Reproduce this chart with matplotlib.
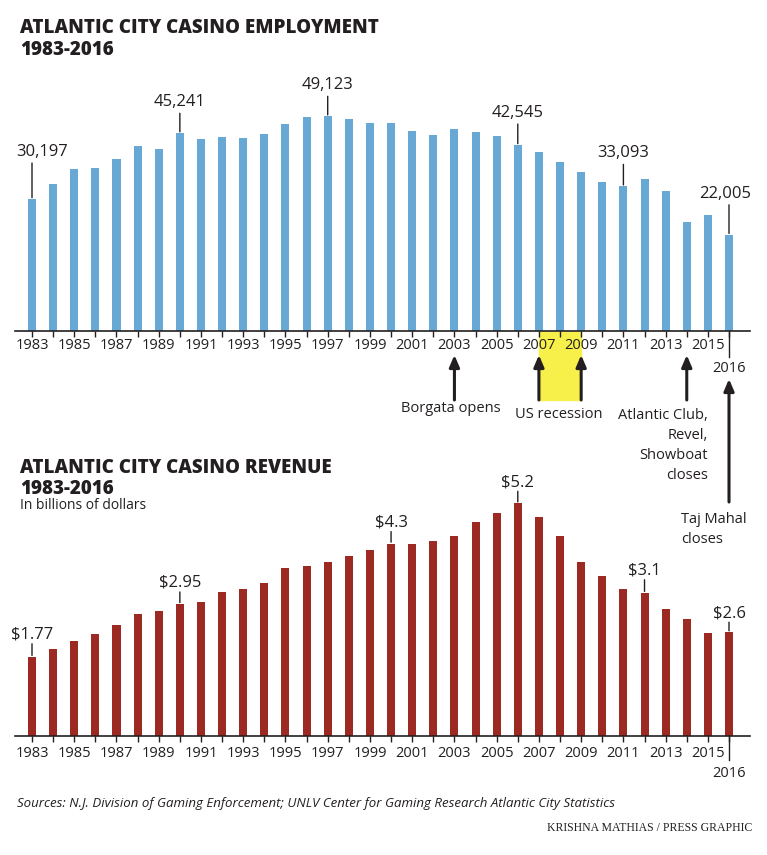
import matplotlib.pyplot as plt
import numpy as np
from matplotlib.patches import Rectangle

plt.rcParams['font.family'] = ['Open Sans', 'DejaVu Sans']

years = list(range(1983, 2017))
employment = [30197, 33600, 37100, 37300, 39400, 42300, 41600, 45241, 43900, 44400,
              44200, 45100, 47400, 49000, 49123, 48500, 47600, 47600, 45800, 44800,
              46200, 45500, 44600, 42545, 41000, 38700, 36400, 34100, 33093, 34800,
              32000, 24900, 26500, 22005]
revenue = [1.77, 1.95, 2.12, 2.28, 2.48, 2.72, 2.79, 2.95, 2.99, 3.22,
           3.29, 3.42, 3.75, 3.80, 3.89, 4.02, 4.16, 4.30, 4.30, 4.36,
           4.47, 4.78, 4.98, 5.20, 4.90, 4.47, 3.89, 3.58, 3.29, 3.20,
           2.84, 2.61, 2.30, 2.32]

emp_label_years = [1983, 1990, 1997, 2006, 2011, 2016]
emp_labels = ['30,197', '45,241', '49,123', '42,545', '33,093', '22,005']
rev_label_years = [1983, 1990, 2000, 2006, 2012, 2016]
rev_labels = ['$1.77', '$2.95', '$4.3', '$5.2', '$3.1', '$2.6']

W, H = 767, 855
dark = '#231f20'
blue = '#68a8d5'
red = '#9c2a22'

fig = plt.figure(figsize=(W / 100, H / 100), dpi=100)

# axes placed in pixel units
x0, x1 = 15, 750
top_base, top_h = 331, 240.4
bot_base, bot_h = 736, 268.5
ax1 = fig.add_axes([x0 / W, 1 - top_base / H, (x1 - x0) / W, top_h / H])
ax2 = fig.add_axes([x0 / W, 1 - bot_base / H, (x1 - x0) / W, bot_h / H])

xl = (1982.195, 2016.994)


def style(ax, ymax, pad):
    ax.set_xlim(*xl)
    ax.set_ylim(0, ymax)
    for s in ['top', 'right', 'left']:
        ax.spines[s].set_visible(False)
    ax.spines['bottom'].set_color(dark)
    ax.spines['bottom'].set_linewidth(1.2)
    ax.set_yticks([])
    ax.set_xticks(years)
    ax.set_xticklabels([str(y) if y % 2 == 1 else '' for y in years])
    ax.tick_params(axis='x', length=4, width=1, color=dark, labelsize=10.5,
                   labelcolor=dark, pad=pad)
    ax.patch.set_alpha(0)


style(ax1, 55000, 1)
style(ax2, 6.0, 3)

ax1.bar(years, employment, width=0.38, color=blue, zorder=2)
ax2.bar(years, revenue, width=0.38, color=red, zorder=2)

# value labels with leader lines
emp_lead = [36, 20, 20, 21, 22, 30]
emp_shift = [10, 0, 0, 0, 0, -4]
for yr, lab, L, dx in zip(emp_label_years, emp_labels, emp_lead, emp_shift):
    v = employment[years.index(yr)]
    ax1.annotate('', xy=(yr, v), xytext=(0, L), textcoords='offset pixels',
                 arrowprops=dict(arrowstyle='-', color=dark, lw=1, shrinkA=0, shrinkB=1))
    ax1.annotate(lab, xy=(yr, v), xytext=(dx, L + 7), textcoords='offset pixels',
                 ha='center', va='baseline', fontsize=12, color=dark)

rev_lead = [13, 12, 12, 12, 13, 10]
for yr, lab, L in zip(rev_label_years, rev_labels, rev_lead):
    v = revenue[years.index(yr)]
    ax2.annotate('', xy=(yr, v), xytext=(0, L), textcoords='offset pixels',
                 arrowprops=dict(arrowstyle='-', color=dark, lw=1, shrinkA=0, shrinkB=1))
    ax2.annotate(lab, xy=(yr, v), xytext=(0, L + 5), textcoords='offset pixels',
                 ha='center', va='baseline', fontsize=12, color=dark)


def ya(py, base, h):
    return (base - py) / h


# 2016 labels hanging below the axes
for ax, base, h, ltop, lbot, ty in [(ax1, top_base, top_h, 331, 357, 368),
                                     (ax2, bot_base, bot_h, 736, 760, 773)]:
    tr = ax.get_xaxis_transform()
    ax.plot([2016, 2016], [ya(ltop, base, h), ya(lbot, base, h)], color=dark,
            lw=1, transform=tr, clip_on=False)
    ax.text(2016, ya(ty, base, h), '2016', transform=tr, ha='center', va='center',
            fontsize=10.5, color=dark)

# recession shading
tr1 = ax1.get_xaxis_transform()
ax1.add_patch(Rectangle((2007, ya(400, top_base, top_h)), 2,
                        ya(332, top_base, top_h) - ya(400, top_base, top_h),
                        transform=tr1, color='#f8f04a', zorder=0, clip_on=False))

arrow = dict(arrowstyle='-|>,head_length=0.7,head_width=0.3', color=dark, lw=2.2,
             shrinkA=0, shrinkB=0)
for yr in [2003, 2007, 2009, 2014]:
    ax1.annotate('', xy=(yr, ya(355, top_base, top_h)), xycoords=tr1,
                 xytext=(yr, ya(400, top_base, top_h)), textcoords=tr1,
                 arrowprops=arrow)
ax1.annotate('', xy=(2016, ya(379, top_base, top_h)), xycoords=tr1,
             xytext=(2016, ya(502, top_base, top_h)), textcoords=tr1,
             arrowprops=arrow)


def fx(px):
    return px / W


def fy(py):
    return 1 - py / H


fs = 10.5
fig.text(fx(451), fy(412), 'Borgata opens', ha='center', va='baseline', fontsize=fs, color=dark)
fig.text(fx(559), fy(418), 'US recession', ha='center', va='baseline', fontsize=fs, color=dark)
for i, line in enumerate(['Atlantic Club,', 'Revel,', 'Showboat', 'closes']):
    fig.text(fx(708), fy(419 + 20 * i), line, ha='right', va='baseline', fontsize=fs, color=dark)
for i, line in enumerate(['Taj Mahal', 'closes']):
    fig.text(fx(681), fy(523 + 20 * i), line, ha='left', va='baseline', fontsize=fs, color=dark)

# titles
tfs = 13.5
fig.text(fx(20), fy(33), 'ATLANTIC CITY CASINO EMPLOYMENT', fontsize=tfs, fontweight='heavy',
         color=dark, va='baseline')
fig.text(fx(20), fy(55), '1983-2016', fontsize=tfs, fontweight='heavy', color=dark, va='baseline')
fig.text(fx(20), fy(473), 'ATLANTIC CITY CASINO REVENUE', fontsize=tfs, fontweight='heavy',
         color=dark, va='baseline')
fig.text(fx(20), fy(494), '1983-2016', fontsize=tfs, fontweight='heavy', color=dark, va='baseline')
fig.text(fx(20), fy(509), 'In billions of dollars', fontsize=10, color=dark, va='baseline')

fig.text(fx(17), fy(807), 'Sources: N.J. Division of Gaming Enforcement; UNLV Center for Gaming '
         'Research Atlantic City Statistics', fontsize=9.5, style='italic', color=dark,
         va='baseline')
fig.text(fx(752), fy(831), 'KRISHNA MATHIAS / PRESS GRAPHIC', fontsize=8.5,
         family='Liberation Serif', color=dark, ha='right', va='baseline')

fig.savefig('out.png', dpi=100, facecolor='white')
